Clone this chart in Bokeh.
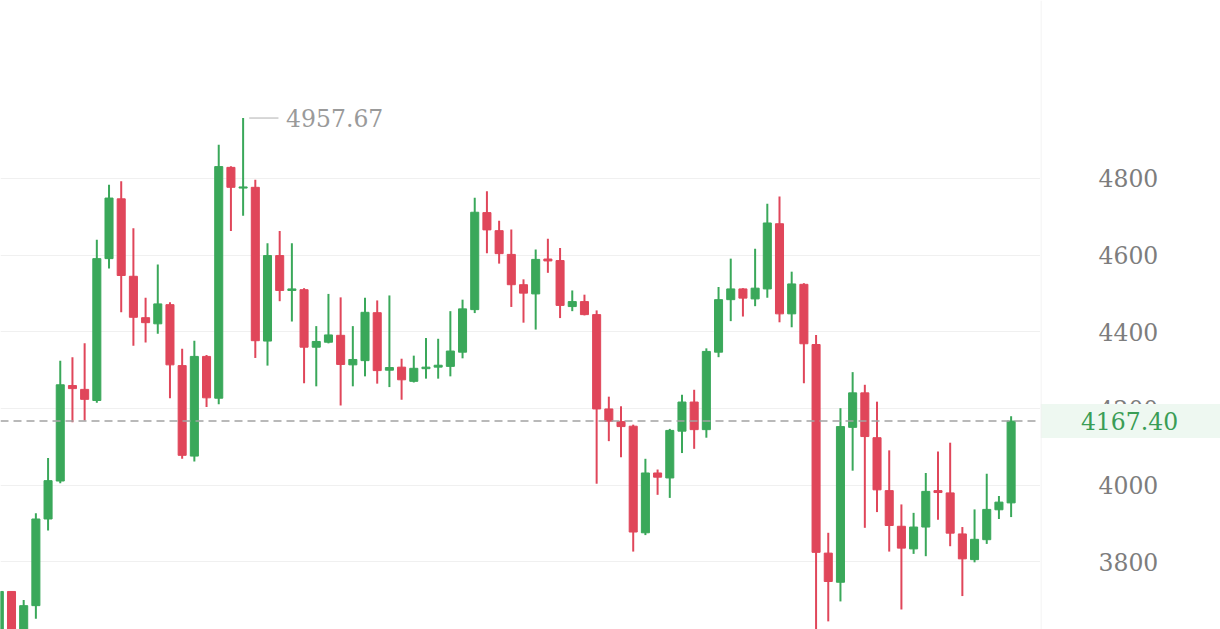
from bokeh.plotting import figure
from bokeh.layouts import row
from bokeh.models import Range1d, FixedTicker, Span, Label, ColumnDataSource, Grid
from bokeh.embed import file_html
from bokeh.resources import INLINE

# ---- data ----
open_ = [3590, 3723, 3610, 3686, 3912, 4011, 4260, 4250, 4221, 4591,
         4747, 4545, 4437, 4421, 4471, 4312, 4076, 4336, 4227, 4829,
         4775, 4777, 4376, 4599, 4508, 4510, 4360, 4373, 4391, 4314,
         4325, 4450, 4300, 4308, 4271, 4304, 4308, 4310, 4347, 4458,
         4711, 4664, 4602, 4523, 4499, 4590, 4586, 4466, 4479, 4445,
         4199, 4166, 4154, 3876, 4032, 4019, 4141, 4217, 4145, 4347,
         4484, 4512, 4486, 4512, 4682, 4447, 4524, 4367, 3823, 3747,
         4151, 4241, 4124, 3986, 3893, 3834, 3891, 3986, 3980, 3873,
         3806, 3858, 3936, 3954]
high = [3723, 3723, 3701, 3927, 4071, 4325, 4334, 4370, 4640, 4784,
        4793, 4670, 4489, 4576, 4477, 4356, 4377, 4340, 4888, 4832,
        4957.67, 4797, 4631, 4663, 4631, 4514, 4415, 4499, 4490, 4415,
        4489, 4482, 4495, 4330, 4338, 4384, 4382, 4454, 4484, 4750,
        4767, 4690, 4667, 4537, 4615, 4643, 4619, 4508, 4497, 4456,
        4231, 4206, 4158, 4069, 4041, 4147, 4236, 4249, 4357, 4517,
        4591, 4514, 4617, 4734, 4753, 4557, 4527, 4392, 3876, 4201,
        4295, 4262, 4218, 4091, 3950, 3928, 4032, 4088, 4111, 3891,
        3937, 4030, 3972, 4180]
low = [3570, 3580, 3590, 3652, 3882, 4005, 4164, 4169, 4215, 4565,
       4451, 4364, 4372, 4395, 4227, 4069, 4062, 4204, 4211, 4663,
       4703, 4332, 4312, 4480, 4427, 4266, 4258, 4370, 4208, 4258,
       4284, 4265, 4256, 4223, 4268, 4278, 4278, 4284, 4331, 4449,
       4605, 4578, 4465, 4424, 4406, 4554, 4436, 4454, 4443, 4004,
       4115, 4073, 3827, 3870, 3975, 3967, 4084, 4095, 4124, 4334,
       4428, 4440, 4467, 4489, 4425, 4412, 4266, 3600, 3645, 3697,
       4038, 3889, 3930, 3827, 3676, 3821, 3815, 3910, 3841, 3711,
       3799, 3847, 3912, 3917]
close = [3723, 3600, 3686, 3912, 4012, 4262, 4252, 4224, 4591, 4749,
         4547, 4438, 4424, 4473, 4314, 4078, 4336, 4228, 4831, 4777,
         4778, 4377, 4599, 4508, 4512, 4360, 4375, 4392, 4315, 4328,
         4451, 4299, 4307, 4275, 4305, 4308, 4313, 4350, 4460, 4712,
         4666, 4604, 4523, 4501, 4589, 4585, 4469, 4479, 4445, 4199,
         4167, 4153, 3878, 4032, 4021, 4143, 4217, 4145, 4349, 4484,
         4512, 4488, 4514, 4684, 4447, 4525, 4369, 3825, 3749, 4153,
         4241, 4127, 3988, 3895, 3836, 3891, 3984, 3981, 3875, 3808,
         3859, 3937, 3956, 4167.40]
y_ticks = [3600, 3800, 4000, 4200, 4400, 4600, 4800]
y_tick_labels = ["3600", "3800", "4000", "4200", "4400", "4600", "4800"]
last_price = 4167.40
last_price_label = "4167.40"
max_high_label = "4957.67"

GREEN = "#3aa85a"
RED = "#e0465a"
FONT = "DejaVu Serif"
FSIZE = "23.5px"

idx = list(range(len(close)))
colors = [GREEN if c >= o else RED for o, c in zip(open_, close)]
src = ColumnDataSource(dict(
    x=idx, open=open_, high=high, low=low, close=close, color=colors,
    top=[max(o, c) for o, c in zip(open_, close)],
    bottom=[min(o, c) for o, c in zip(open_, close)],
))

yr = Range1d(3623.8, 5264.2)

# ---------------- main candle panel ----------------
p = figure(width=1040, height=629, output_backend="svg", toolbar_location=None,
           x_range=Range1d(0.098, 85.41), y_range=yr,
           x_axis_location=None, y_axis_location=None,
           min_border=0)
p.grid.visible = False
p.outline_line_color = None
p.background_fill_color = "white"
p.border_fill_color = "white"
p.add_layout(Grid(dimension=1, ticker=FixedTicker(ticks=y_ticks),
                  grid_line_color="#f0f0f0", grid_line_width=1))

p.segment(x0="x", x1="x", y0="low", y1="high", source=src,
          line_color="color", line_width=2)
p.vbar(x="x", width=0.66, top="top", bottom="bottom", source=src,
       fill_color="color", line_color="color", line_width=1)

p.add_layout(Span(location=last_price, dimension="width", line_color="#a3a3a3",
                  line_dash="8 5", line_width=1.5))

imax = max(idx, key=lambda i: high[i])
p.segment(x0=[imax + 0.5], x1=[imax + 2.9], y0=[high[imax]], y1=[high[imax]],
          line_color="#b0b0b0", line_width=1)
p.add_layout(Label(x=imax, y=high[imax], x_offset=43, text=max_high_label,
                   text_font=FONT, text_font_size=FSIZE, text_color="#9a9a9a",
                   text_baseline="middle", text_align="left"))

# ---------------- price scale panel (right) ----------------
p2 = figure(width=180, height=629, output_backend="svg", toolbar_location=None,
            x_range=Range1d(0, 180), y_range=yr,
            x_axis_location=None, y_axis_location=None, min_border=0)
p2.grid.visible = False
p2.outline_line_color = None
p2.background_fill_color = "white"
p2.border_fill_color = "white"
p2.add_layout(Span(location=0.5, dimension="height", line_color="#f0f0f0", line_width=1))

p2.text(x=[58] * len(y_ticks), y=y_ticks, text=y_tick_labels,
        text_font={"value": FONT}, text_font_size={"value": FSIZE},
        text_color="#7d7d7d", text_baseline="middle", text_align="left")

p2.rect(x=[90], y=[last_price], width=[180], height=[34], height_units="screen",
        fill_color="#eef8f1", line_color=None)
p2.text(x=[89], y=[last_price], text=[last_price_label],
        text_font={"value": FONT}, text_font_size={"value": FSIZE},
        text_color="#3a9d56", text_baseline="middle", text_align="center")

layout = row(p, p2, spacing=0)
open("out.html", "w").write(file_html(layout, INLINE))
